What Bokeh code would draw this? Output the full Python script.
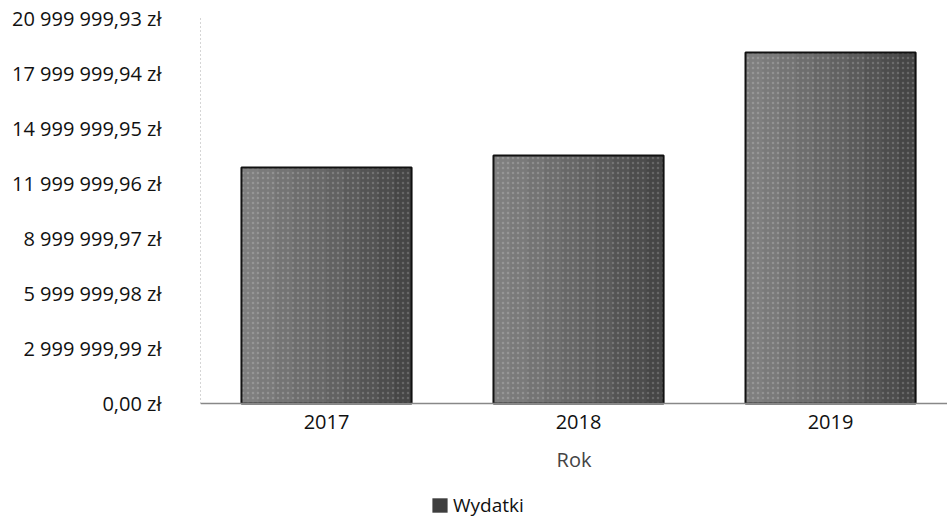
from bokeh.plotting import figure
from bokeh.models import ColumnDataSource, Range1d, FixedTicker, Legend, LegendItem
from bokeh.transform import dodge
from bokeh.embed import file_html
from bokeh.resources import INLINE

years = [2017, 2018, 2019]
wydatki = [12870000, 13530000, 19150000]
y_ticks = [0, 2999999.99, 5999999.98, 8999999.97, 11999999.96, 14999999.95, 17999999.94, 20999999.93]
y_labels = ["0,00 zł", "2 999 999,99 zł", "5 999 999,98 zł", "8 999 999,97 zł",
            "11 999 999,96 zł", "14 999 999,95 zł", "17 999 999,94 zł", "20 999 999,93 zł"]
x_labels = ["2017", "2018", "2019"]

BAR_W = 0.675
Y_MAX = y_ticks[-1]
FRAME_H = 502          # px; value axis occupies the top 385 px, the rest holds axis texts + legend
AXIS_H = 385
y_min = -Y_MAX * (FRAME_H - AXIS_H) / AXIS_H

src = ColumnDataSource(dict(x=years, top=wydatki))

p = figure(frame_width=747, frame_height=FRAME_H, output_backend="svg", toolbar_location=None,
           x_range=Range1d(2016.5, 2019.464), y_range=Range1d(y_min, Y_MAX),
           min_border_left=200, min_border_top=18, min_border_right=0, min_border_bottom=0)
p.outline_line_color = None
p.grid.grid_line_color = None

bar = p.vbar(x="x", top="top", width=BAR_W, source=src, fill_color="#3e3e3e",
             line_color=None)
# smooth light-to-dark shading, left to right
N = 10
for k in range(1, N + 1):
    w = BAR_W * k / N
    p.vbar(x=dodge("x", -BAR_W / 2 + w / 2, range=p.x_range), top="top", width=w,
           source=src, fill_color="white", fill_alpha=0.045, line_color=None)
# speckle texture and dark border
p.vbar(x="x", top="top", width=BAR_W, source=src, fill_alpha=0,
       hatch_pattern="dot", hatch_color="white", hatch_alpha=0.18, hatch_scale=5,
       line_color="#111111", line_width=2)

p.yaxis.ticker = FixedTicker(ticks=y_ticks)
p.yaxis.bounds = (0, Y_MAX)
p.yaxis.major_label_overrides = {t: l for t, l in zip(y_ticks, y_labels)}
p.yaxis.major_tick_line_color = None
p.yaxis.minor_tick_line_color = None
p.yaxis.axis_line_color = "#aaaaaa"
p.yaxis.axis_line_dash = "1 3"
p.yaxis.major_label_standoff = 33
p.yaxis.major_label_text_font = "Open Sans"
p.yaxis.major_label_text_font_size = "20px"
p.yaxis.major_label_text_color = "#111111"

p.xaxis.fixed_location = 0
p.xaxis.ticker = FixedTicker(ticks=years)
p.xaxis.major_label_overrides = {y: l for y, l in zip(years, x_labels)}
p.xaxis.major_tick_line_color = None
p.xaxis.minor_tick_line_color = None
p.xaxis.axis_line_color = "#888888"
p.xaxis.axis_line_width = 1.5
p.xaxis.major_label_standoff = 5
p.xaxis.major_label_text_font = "Open Sans"
p.xaxis.major_label_text_font_size = "20px"
p.xaxis.major_label_text_color = "#111111"
p.xaxis.axis_label = "Rok"
p.xaxis.axis_label_text_font = "Open Sans"
p.xaxis.axis_label_text_font_style = "normal"
p.xaxis.axis_label_text_font_size = "20px"
p.xaxis.axis_label_text_color = "#444444"
p.xaxis.axis_label_standoff = 14

legend = Legend(items=[LegendItem(label="Wydatki", renderers=[bar])],
                location=(230, 2), orientation="horizontal",
                border_line_color=None, background_fill_alpha=0,
                label_text_font="Open Sans", label_text_font_size="19px",
                label_text_color="#111111", label_height=18,
                glyph_width=19, glyph_height=18, label_standoff=4, padding=2, margin=0)
p.add_layout(legend, "center")

open("out.html", "w").write(file_html(p, INLINE))
